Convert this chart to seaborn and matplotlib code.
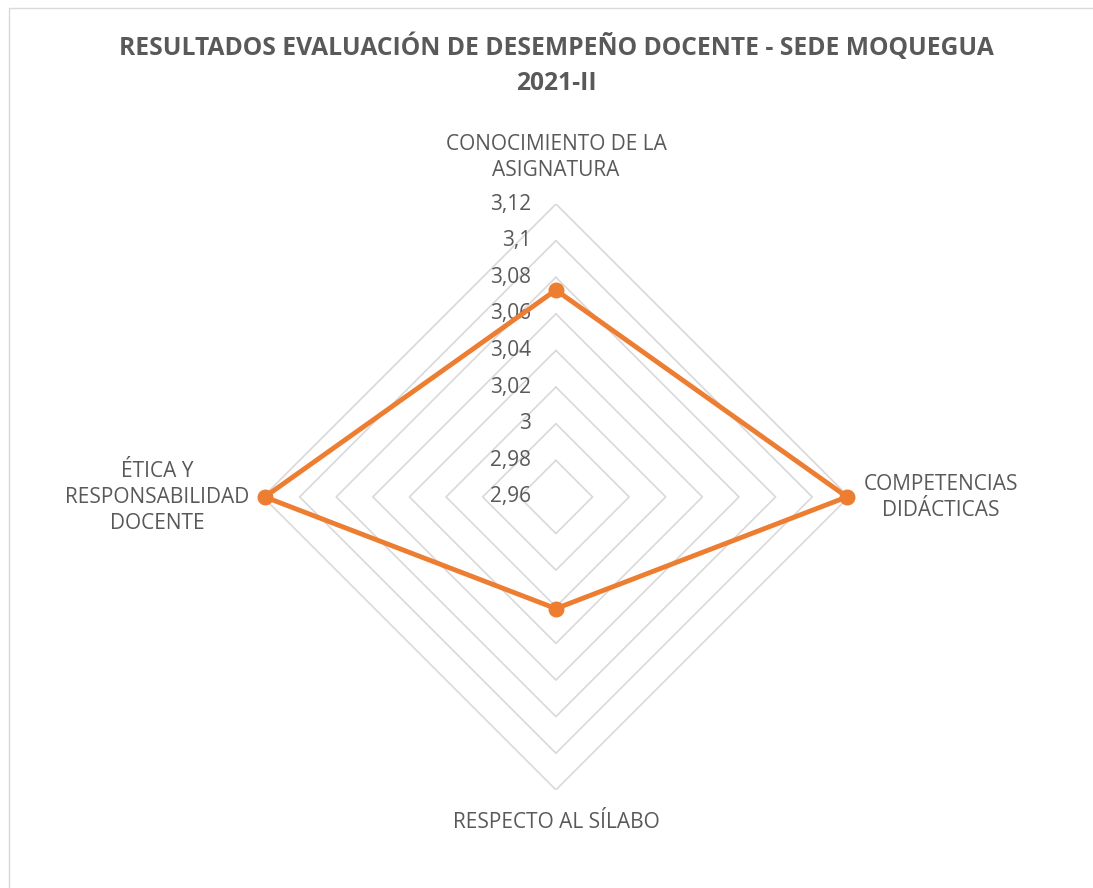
import numpy as np
import matplotlib
matplotlib.use("Agg")
import matplotlib.pyplot as plt
import matplotlib.transforms as mtransforms
import seaborn as sns

# Data
categories = ["CONOCIMIENTO DE LA\nASIGNATURA", "COMPETENCIAS\nDIDÁCTICAS",
              "RESPECTO AL SÍLABO", "ÉTICA Y\nRESPONSABILIDAD\nDOCENTE"]
scores = [3.073, 3.119, 3.021, 3.119]
levels = [2.98, 3.0, 3.02, 3.04, 3.06, 3.08, 3.10, 3.12]
level_labels = ["2,96", "2,98", "3", "3,02", "3,04", "3,06", "3,08", "3,1", "3,12"]
title = "RESULTADOS EVALUACIÓN DE DESEMPEÑO DOCENTE - SEDE MOQUEGUA\n2021-II"

sns.set_style("white")
plt.rcParams['font.family'] = ['Open Sans', 'DejaVu Sans']

text_color = "#595959"
grid_color = "#d9d9d9"
line_color = "#ed7d31"

fig = plt.figure(figsize=(10.93, 8.88), dpi=100)
fig.patch.set_facecolor("white")

# chart area border (Excel style)
fig.add_artist(plt.Rectangle((9 / 1093, -0.01), 1.1, 1 - 8 / 888 + 0.01,
                             transform=fig.transFigure, fill=False,
                             edgecolor=grid_color, linewidth=1))

ax = fig.add_axes([0.2406, 0.1104, 0.536, 0.66], projection="polar")
ax.set_theta_offset(np.pi / 2)
ax.set_theta_direction(-1)
ax.set_ylim(2.96, 3.12)
ax.grid(False)
ax.spines["polar"].set_visible(False)
ax.set_xticks([])
ax.set_yticks([])
ax.patch.set_alpha(0)

n = len(categories)
angles = np.linspace(0, 2 * np.pi, n, endpoint=False)
closed = np.append(angles, angles[0])

# diamond gridlines
for lv in levels:
    ax.plot(closed, [lv] * (n + 1), color=grid_color, lw=1.2, zorder=1)

# radial tick labels along top axis
tick_vals = [2.96] + levels
off = mtransforms.offset_copy(ax.transData, fig=fig, x=-25, y=0, units="dots")
for v, lab in zip(tick_vals, level_labels):
    ax.text(0, v, lab, transform=off, ha="right", va="center",
            fontsize=15, color=text_color)

# data series
vals = np.append(scores, scores[0])
ax.plot(closed, vals, color=line_color, lw=3.5, zorder=3, clip_on=False)
ax.scatter(angles, scores, s=110, color=line_color, zorder=4, clip_on=False)

# category labels
lab_pos = [(0.5087, 0.8226), (0.861, 0.440),
           (0.5087, 0.0743), (0.1436, 0.440)]
for cat, (x, y) in zip(categories, lab_pos):
    fig.text(x, y, cat, ha="center", va="center", fontsize=15, color=text_color,
             linespacing=1.32)

fig.text(0.5087, 0.927, title, ha="center", va="center", fontsize=17.7,
         fontweight="bold", color=text_color, linespacing=1.55)

fig.savefig("out.png", dpi=100, facecolor="white")
